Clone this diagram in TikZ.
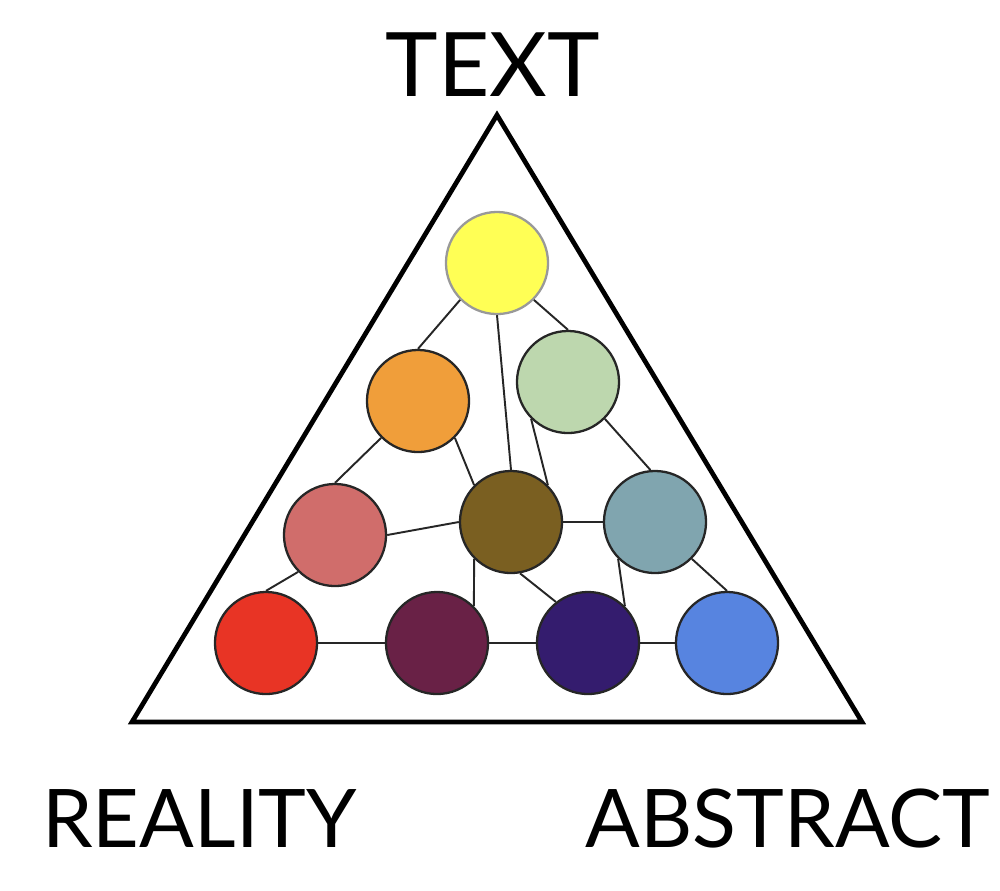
\documentclass[tikz,border=0pt]{standalone}
\usepackage{fontspec}
\setmainfont{Lato}
\definecolor{cyel}{HTML}{FFFF55}
\definecolor{cora}{HTML}{F09E3A}
\definecolor{cgre}{HTML}{BDD7AE}
\definecolor{cpin}{HTML}{D06D6B}
\definecolor{cbro}{HTML}{7A5F21}
\definecolor{ctea}{HTML}{80A5AF}
\definecolor{cred}{HTML}{E83425}
\definecolor{cmar}{HTML}{692146}
\definecolor{cdbl}{HTML}{341C6E}
\definecolor{cblu}{HTML}{5784E0}
\tikzset{
  ball/.style={circle, draw=black!85, line width=0.65pt, minimum size=1.02cm, inner sep=0pt},
  link/.style={draw=black!85, line width=0.55pt},
  corner/.style={font=\fontsize{23}{27}\selectfont, inner sep=0pt},
  bigcorner/.style={font=\fontsize{25.3}{30}\selectfont, inner sep=0pt}
}
\begin{document}
\begin{tikzpicture}[x=0.01cm,y=-0.01cm]
\useasboundingbox (0,0) rectangle (1000,890);
\coordinate (A) at (497,115);
\coordinate (B) at (132,722);
\coordinate (C) at (862,722);
\draw[line width=1.35pt, line join=miter] (A) -- (B) -- (C) -- cycle;
\node[bigcorner] (ttext) at (493,64.5) {TEXT};
\node[corner] (treal) at (199.5,819) {REALITY};
\node[corner] (tabs) at (788,819) {ABSTRACT};
\node[ball, fill=cyel, draw=black!40] (yel) at (497,263) {};
\node[ball, fill=cora] (ora) at (418,401) {};
\node[ball, fill=cgre] (gre) at (568,382) {};
\node[ball, fill=cpin] (pin) at (335,535) {};
\node[ball, fill=cbro] (bro) at (511,522) {};
\node[ball, fill=ctea] (tea) at (655,522) {};
\node[ball, fill=cred] (red) at (266,643) {};
\node[ball, fill=cmar] (mar) at (437,643) {};
\node[ball, fill=cdbl] (dbl) at (588,643) {};
\node[ball, fill=cblu] (blu) at (727,643) {};
\path[link] (yel.225) -- (ora.90);
\path[link] (yel.315) -- (gre.90);
\path[link] (yel.270) -- (bro.90);
\path[link] (ora.225) -- (pin.90);
\path[link] (ora.315) -- (bro.135);
\path[link] (gre.225) -- (bro.45);
\path[link] (gre.315) -- (tea.95);
\path[link] (pin.0) -- (bro.180);
\path[link] (pin.225) -- (red.90);
\path[link] (bro.0) -- (tea.180);
\path[link] (bro.225) -- (mar.45);
\path[link] (bro.280) -- (dbl.128);
\path[link] (tea.225) -- (dbl.45);
\path[link] (tea.315) -- (blu.90);
\path[link] (red.0) -- (mar.180);
\path[link] (mar.0) -- (dbl.180);
\path[link] (dbl.0) -- (blu.180);
\end{tikzpicture}
\end{document}
